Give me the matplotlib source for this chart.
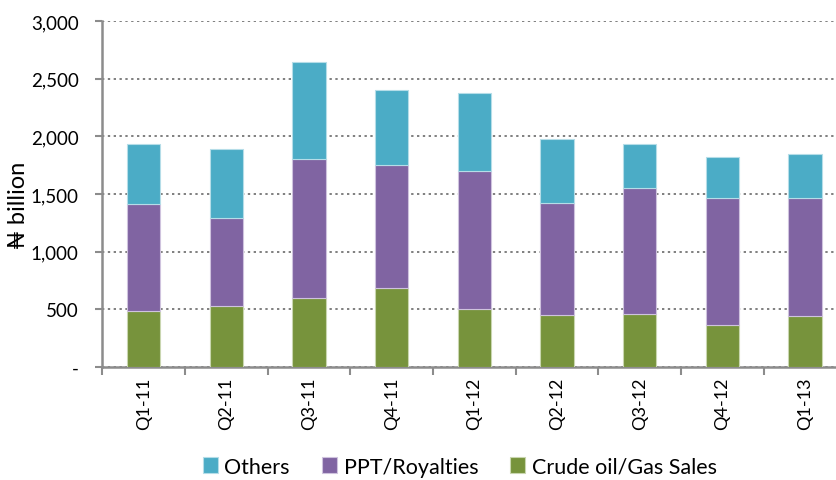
import numpy as np
import matplotlib
matplotlib.use('Agg')
import matplotlib.pyplot as plt
from matplotlib.ticker import FuncFormatter

plt.rcParams['font.family'] = ['Lato', 'DejaVu Sans']

# Federation account oil revenue, N billion
quarters = ['Q1-11', 'Q2-11', 'Q3-11', 'Q4-11', 'Q1-12', 'Q2-12', 'Q3-12', 'Q4-12', 'Q1-13']
crude_sales = [480, 529, 596, 682, 503, 451, 457, 364, 437]
ppt_royalties = [934, 763, 1208, 1073, 1197, 966, 1098, 1104, 1029]
others = [520, 601, 838, 650, 676, 563, 379, 353, 381]

c_crude = '#77933C'
c_ppt = '#8064A2'
c_others = '#4BACC6'
axis_grey = '#8C8C8C'

fig = plt.figure(figsize=(8.36, 4.81), dpi=100)
# plot area is wider than the image on the right, as in the reference
ax = fig.add_axes([102.3 / 836, 0.2355, 744 / 836, 0.7185])

x = np.arange(len(quarters))
w = 0.4
crude = np.array(crude_sales)
ppt = np.array(ppt_royalties)
oth = np.array(others)

ax.bar(x, crude, w, color=c_crude, edgecolor='#C9D6B0', linewidth=0.8, label='Crude oil/Gas Sales', zorder=3)
ax.bar(x, ppt, w, bottom=crude, color=c_ppt, edgecolor='#CFC3DE', linewidth=0.8, label='PPT/Royalties', zorder=3)
ax.bar(x, oth, w, bottom=crude + ppt, color=c_others, edgecolor='#B5DDE8', linewidth=0.8, label='Others', zorder=3)

ax.set_xlim(-0.5, 8.5)
ax.set_ylim(0, 3000)
ax.set_yticks(np.arange(0, 3001, 500))
ax.yaxis.set_major_formatter(FuncFormatter(lambda v, p: '-' if v == 0 else f'{int(v):,}'))
ax.grid(axis='y', linestyle=(0, (1.2, 1.8)), color='#7F7F7F', linewidth=1.4, zorder=0)

ax.set_xticks(x)
ax.set_xticklabels(quarters, rotation=90, fontsize=13)
ax.set_xticks(np.arange(-0.5, 9, 1), minor=True)
ax.tick_params(axis='x', which='major', length=0, pad=7)
ax.tick_params(axis='x', which='minor', length=6, width=1.5, color=axis_grey)
ax.tick_params(axis='y', length=5, width=1.5, color=axis_grey, labelsize=13.5, pad=12)

for s in ['top', 'right']:
    ax.spines[s].set_visible(False)
for s in ['left', 'bottom']:
    ax.spines[s].set_color(axis_grey)
    ax.spines[s].set_linewidth(1.8)

ax.set_ylabel('\u20a6 billion', fontsize=17)
ax.yaxis.set_label_coords(-0.099, 0.47)

handles, labels = ax.get_legend_handles_labels()
fig.legend(handles[::-1], labels[::-1], loc='center', bbox_to_anchor=(0.55, 0.028),
           ncol=3, frameon=False, fontsize=15.5, handlelength=0.7, handleheight=0.7,
           handletextpad=0.3, columnspacing=1.5)

fig.savefig('out.png', dpi=100)
